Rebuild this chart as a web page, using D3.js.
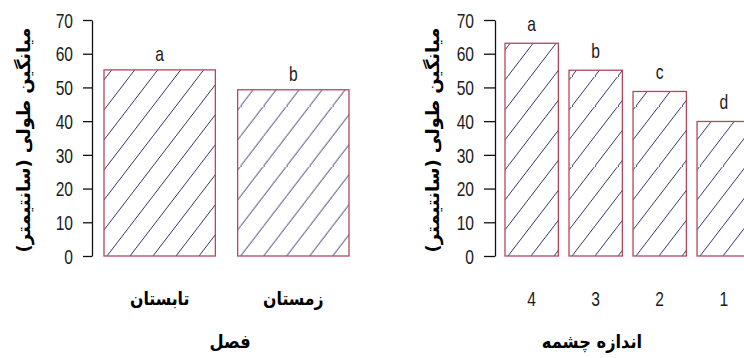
<!DOCTYPE html>
<html>
<head>
<meta charset="utf-8">
<script src="https://cdn.jsdelivr.net/npm/d3@7"></script>
<style>
  html, body { margin: 0; padding: 0; background: #fff; }
  svg { display: block; }
  .num { font-family: "Liberation Sans", Arial, sans-serif; font-size: 20px; fill: #1a1a1a; }
  .fa { font-family: "DejaVu Sans", sans-serif; font-weight: bold; fill: #000; direction: rtl; unicode-bidi: embed; }
</style>
</head>
<body>
<svg id="chart" width="744" height="358"></svg>
<script>
// ---------- data ----------
const seasonCategories = ["تابستان", "زمستان"];
const seasonValues = [55.2, 49.3];
const seasonLetters = ["a", "b"];

const eyeCategories = ["4", "3", "2", "1"];
const eyeValues = [63.1, 55.1, 48.8, 39.9];
const eyeLetters = ["a", "b", "c", "d"];

const yTicks = [0, 10, 20, 30, 40, 50, 60, 70];
const yTitle = "میانگین طولی (سانتیمتر)";
const seasonTitle = "فصل";
const eyeTitle = "اندازه چشمه";

// ---------- drawing ----------
const svg = d3.select("#chart");
svg.append("rect").attr("width", 744).attr("height", 358).attr("fill", "#fff");
const defs = svg.append("defs");

const BORDER = "#b5475a";
const HATCH = "#34336a";
const SX = 0.78; // horizontal squeeze of the reference lettering

const y = d3.scaleLinear().domain([0, 70]).range([256, 20]);

function squeezedText(g, cls, x, yy, txt, sx, anchor) {
  return g.append("text").attr("class", cls)
    .attr("transform", `translate(${x},${yy}) scale(${sx},1)`)
    .attr("text-anchor", anchor || "middle")
    .text(txt);
}

let patId = 0;
function panel(opts) {
  const g = svg.append("g");
  const x = d3.scaleBand()
    .domain(opts.categories)
    .range(opts.barRange)
    .paddingInner(1 / 6)
    .paddingOuter(0);

  // axis
  const pad = 10;
  const axis = d3.axisLeft(y).tickValues(yTicks).tickSize(opts.tickLen).tickSizeOuter(0).tickPadding(pad);
  const ag = g.append("g").attr("transform", `translate(${opts.axisX},0)`).call(axis);
  ag.select(".domain").attr("stroke", "#111").attr("stroke-width", 1.3);
  ag.selectAll(".tick line").attr("stroke", "#111").attr("stroke-width", 1.3);
  ag.selectAll(".tick text")
    .attr("class", "num").attr("font-family", null).attr("font-size", null).attr("fill", null)
    .attr("x", 0).attr("dy", "0.36em")
    .attr("transform", `translate(${-opts.tickLen - pad},0) scale(${SX},1)`);

  // bars with hatch
  opts.values.forEach((v, i) => {
    const cat = opts.categories[i];
    const x0 = x(cat);
    const cx = x0 + x.bandwidth() / 2;
    const id = "hatch" + (patId++);
    const p = defs.append("pattern")
      .attr("id", id)
      .attr("patternUnits", "userSpaceOnUse")
      .attr("width", 23).attr("height", 30)
      .attr("x", x0 + 3).attr("y", y(0));
    p.append("line").attr("x1", -2.3).attr("y1", 33).attr("x2", 25.3).attr("y2", -3)
      .attr("stroke", HATCH).attr("stroke-width", 1);
    g.append("rect")
      .attr("x", x0).attr("y", y(v))
      .attr("width", x.bandwidth()).attr("height", y(0) - y(v))
      .attr("fill", "url(#" + id + ")")
      .attr("stroke", BORDER).attr("stroke-width", 1.3);
    squeezedText(g, "num", cx, y(v) - opts.letterGap, opts.letters[i], SX);
    if (opts.catClass === "fa") {
      squeezedText(g, "fa", cx, 305, cat, 0.85).attr("font-size", 18.5);
    } else {
      squeezedText(g, "num", cx, 306, cat, SX);
    }
  });

  // titles
  g.append("text").attr("class", "fa")
    .attr("transform", `translate(${opts.yTitleX},140) rotate(-90)`)
    .attr("text-anchor", "middle").attr("dominant-baseline", "central")
    .attr("font-size", 18)
    .text(yTitle);
  squeezedText(g, "fa", opts.xTitleX, 348, opts.xTitle, 0.88).attr("font-size", 18.5);
}

panel({
  categories: seasonCategories, values: seasonValues, letters: seasonLetters,
  barRange: [104, 349], axisX: 92, tickLen: 9, letterGap: 9,
  catClass: "fa", yTitleX: 23, xTitleX: 230, xTitle: seasonTitle
});
panel({
  categories: eyeCategories, values: eyeValues, letters: eyeLetters,
  barRange: [505, 750.4], axisX: 495, tickLen: 11, letterGap: 12,
  catClass: "num", yTitleX: 432, xTitleX: 592, xTitle: eyeTitle
});
</script>
</body>
</html>
